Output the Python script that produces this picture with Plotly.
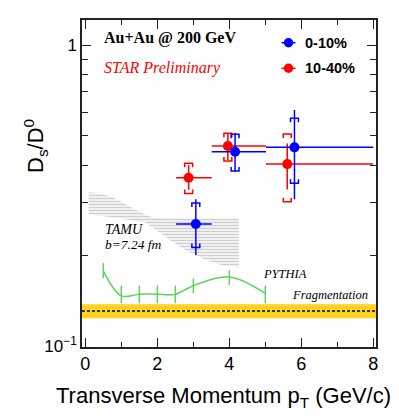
import numpy as np
import plotly.graph_objects as go

# ---------------- data ----------------
series_names = ["0-10%", "10-40%"]

blue_x = [3.07, 4.16, 5.81]
blue_y = [0.255, 0.443, 0.458]
blue_xlo = [2.52, 3.51, 5.02]
blue_xhi = [3.51, 5.02, 8.0]
blue_stat_hi = [0.308, 0.511, 0.610]
blue_stat_lo = [0.201, 0.380, 0.308]
blue_sys_hi = [0.299, 0.506, 0.572]
blue_sys_lo = [0.213, 0.382, 0.348]

red_x = [2.87, 3.96, 5.61]
red_y = [0.363, 0.463, 0.403]
red_xlo = [2.52, 3.51, 5.02]
red_xhi = [3.51, 5.02, 8.0]
red_stat_hi = [0.400, 0.511, 0.472]
red_stat_lo = [0.331, 0.416, 0.332]
red_sys_hi = [0.406, 0.510, 0.507]
red_sys_lo = [0.322, 0.413, 0.302]

pythia_x = [0.5, 1.0, 1.5, 2.0, 2.5, 3.0, 4.0, 5.0]
pythia_y = [0.178, 0.147, 0.149, 0.149, 0.149, 0.159, 0.170, 0.150]
pythia_hi = [0.189, 0.159, 0.159, 0.159, 0.159, 0.168, 0.179, 0.159]
pythia_lo = [0.168, 0.139, 0.139, 0.139, 0.139, 0.150, 0.160, 0.139]

tamu_x_top = [0.094, 0.464, 0.834, 1.205, 1.575, 1.853, 2.223, 4.26]
tamu_y_top = [0.325, 0.321, 0.309, 0.293, 0.277, 0.268, 0.266, 0.266]
tamu_x_bot = [0.094, 1.019, 1.667, 2.038, 2.408, 2.871, 3.334, 3.797, 4.26]
tamu_y_bot = [0.274, 0.266, 0.258, 0.240, 0.223, 0.206, 0.194, 0.186, 0.183]

frag_center = 0.131
frag_low = 0.124
frag_high = 0.138

x_range = [-0.092, 8.075]
y_log_range = [-1.0023, 0.084]

y_major_vals = [0.1, 1]
y_major_text = ["10<sup>\u22121</sup>", "1"]
y_minor_vals = [0.2, 0.3, 0.4, 0.5, 0.6, 0.7, 0.8, 0.9]

BLUE = "#0000ff"
RED = "#ff0000"
GREEN = "#5fd35f"
SANS = "Liberation Sans, Arial, sans-serif"
SERIF = "Liberation Serif, Times New Roman, serif"

fig = go.Figure()

# TAMU band
tx = list(tamu_x_top) + list(tamu_x_bot[::-1])
ty = list(tamu_y_top) + list(tamu_y_bot[::-1])
fig.add_trace(go.Scatter(
    x=tx, y=ty, mode="lines", fill="toself", line=dict(width=0, color="rgba(0,0,0,0)"),
    fillcolor="rgba(255,255,255,0)",
    fillpattern=dict(shape="-", fgcolor="#a0a0a0", bgcolor="rgba(255,255,255,0)", size=3, solidity=0.55),
    hoverinfo="skip", showlegend=False))

# Fragmentation band
fig.add_trace(go.Scatter(
    x=[x_range[0], x_range[1], x_range[1], x_range[0]],
    y=[frag_low, frag_low, frag_high, frag_high],
    mode="lines", fill="toself", line=dict(width=0, color="rgba(0,0,0,0)"),
    fillcolor="#ffd21a",
    fillpattern=dict(shape="-", fgcolor="#ffe98a", bgcolor="#ffcf10", size=4, solidity=0.25),
    hoverinfo="skip", showlegend=False))
fig.add_trace(go.Scatter(
    x=[x_range[0], x_range[1]], y=[frag_center, frag_center], mode="lines",
    line=dict(color="black", width=1.5, dash="3px,2px"), hoverinfo="skip", showlegend=False))

# PYTHIA
fig.add_trace(go.Scatter(
    x=pythia_x, y=pythia_y, mode="lines",
    line=dict(color=GREEN, width=1.5, shape="spline", smoothing=1.0),
    error_y=dict(type="data", symmetric=False,
                 array=list(np.array(pythia_hi) - np.array(pythia_y)),
                 arrayminus=list(np.array(pythia_y) - np.array(pythia_lo)),
                 color=GREEN, thickness=1.5, width=0),
    hoverinfo="skip", showlegend=False))


def add_series(xs, ys, xlo, xhi, shi, slo, syhi, sylo, color):
    xs = np.array(xs); ys = np.array(ys)
    # systematic brackets
    w = 0.11
    hook = 10 ** (4.0 / 301.0)
    bx, by = [], []
    for x, t, b in zip(xs, syhi, sylo):
        bx += [x - w, x - w, x + w, x + w, None]
        by += [t / hook, t, t, t / hook, None]
        bx += [x - w, x - w, x + w, x + w, None]
        by += [b * hook, b, b, b * hook, None]
    fig.add_trace(go.Scatter(x=bx, y=by, mode="lines", line=dict(color=color, width=1.5),
                             hoverinfo="skip", showlegend=False))
    fig.add_trace(go.Scatter(
        x=xs, y=ys, mode="markers",
        marker=dict(color=color, size=10, symbol="circle", line=dict(width=0)),
        error_x=dict(type="data", symmetric=False,
                     array=list(np.array(xhi) - xs), arrayminus=list(xs - np.array(xlo)),
                     color=color, thickness=1.5, width=0),
        error_y=dict(type="data", symmetric=False,
                     array=list(np.array(shi) - ys), arrayminus=list(ys - np.array(slo)),
                     color=color, thickness=1.5, width=0),
        hoverinfo="skip", showlegend=False))


add_series(red_x, red_y, red_xlo, red_xhi, red_stat_hi, red_stat_lo, red_sys_hi, red_sys_lo, RED)
add_series(blue_x, blue_y, blue_xlo, blue_xhi, blue_stat_hi, blue_stat_lo, blue_sys_hi, blue_sys_lo, BLUE)

L, R, T, B = 82, 23, 20, 69
W, H = 399, 416
pw, ph = W - L - R, H - T - B


def px(xp):
    return (xp - L) / pw


def py(yp):
    return (H - B - yp) / ph


annotations = [
    dict(text="<b>Au+Au @ 200 GeV</b>", x=px(102), y=py(38.5), xanchor="left", yanchor="middle",
         font=dict(family=SERIF, size=16, color="black")),
    dict(text="<i>STAR Preliminary</i>", x=px(102), y=py(68.5), xanchor="left", yanchor="middle",
         font=dict(family=SERIF, size=16, color=RED)),
    dict(text="<b>" + series_names[0] + "</b>", x=px(303), y=py(43), xanchor="left", yanchor="middle",
         font=dict(family=SANS, size=14.5, color="black")),
    dict(text="<b>" + series_names[1] + "</b>", x=px(303), y=py(68.5), xanchor="left", yanchor="middle",
         font=dict(family=SANS, size=14.5, color="black")),
    dict(text="<i>TAMU</i>", x=px(103), y=py(229), xanchor="left", yanchor="middle",
         font=dict(family=SERIF, size=14, color="black")),
    dict(text="<i>b=7.24 fm</i>", x=px(103), y=py(244.5), xanchor="left", yanchor="middle",
         font=dict(family=SERIF, size=13.5, color="black")),
    dict(text="<i>PYTHIA</i>", x=px(261), y=py(274), xanchor="left", yanchor="middle",
         font=dict(family=SERIF, size=12.5, color="black")),
    dict(text="<i>Fragmentation</i>", x=px(290), y=py(295), xanchor="left", yanchor="middle",
         font=dict(family=SERIF, size=12.5, color="black")),
    dict(text="Transverse Momentum p<sub>T</sub> (GeV/c)", x=px(393), y=py(397), xanchor="right",
         yanchor="middle", font=dict(family=SANS, size=22, color="black")),
    dict(text="D<sub>s</sub>/D<sup>0</sup>", x=px(35), y=py(146), xanchor="center", yanchor="middle",
         textangle=-90, font=dict(family=SANS, size=22, color="black")),
]
for a in annotations:
    a.update(xref="paper", yref="paper", showarrow=False)

shapes = []
for yy, col in [(42.7, BLUE), (68.3, RED)]:
    shapes.append(dict(type="line", xref="paper", yref="paper", x0=px(281.5), x1=px(295.5),
                       y0=py(yy), y1=py(yy), line=dict(color=col, width=1.5)))
    shapes.append(dict(type="circle", xref="paper", yref="paper", xsizemode="pixel", ysizemode="pixel",
                       xanchor=px(288.5), yanchor=py(yy), x0=-4.7, x1=4.7, y0=-4.7, y1=4.7,
                       fillcolor=col, line=dict(width=0)))

fig.update_layout(
    width=W, height=H, margin=dict(l=L, r=R, t=T, b=B, pad=0),
    paper_bgcolor="white", plot_bgcolor="white",
    annotations=annotations, shapes=shapes, showlegend=False,
    xaxis=dict(range=x_range, showgrid=False, zeroline=False, showline=True, linecolor="#222",
               linewidth=1.5, mirror="ticks", ticks="inside", ticklen=9, tickwidth=1, tickcolor="#222",
               tickmode="linear", tick0=0, dtick=2,
               tickfont=dict(family=SANS, size=18, color="black"),
               minor=dict(ticks="inside", ticklen=5, tickwidth=1, tickcolor="#222", tickmode="linear",
                          tick0=0, dtick=1, showgrid=False)),
    yaxis=dict(type="log", range=y_log_range, showgrid=False, zeroline=False, showline=True,
               linecolor="#222", linewidth=1.5, mirror="ticks", ticks="inside", ticklen=9, tickwidth=1,
               tickcolor="#222", tickmode="array", tickvals=y_major_vals, ticktext=y_major_text,
               tickfont=dict(family=SANS, size=17, color="black"),
               minor=dict(ticks="inside", ticklen=6, tickwidth=1, tickcolor="#222", tickmode="array",
                          tickvals=y_minor_vals, showgrid=False)),
)

fig.write_html("out.html", config={"displayModeBar": False},
               post_script="document.body.style.margin='0px';document.body.style.overflow='hidden';")
